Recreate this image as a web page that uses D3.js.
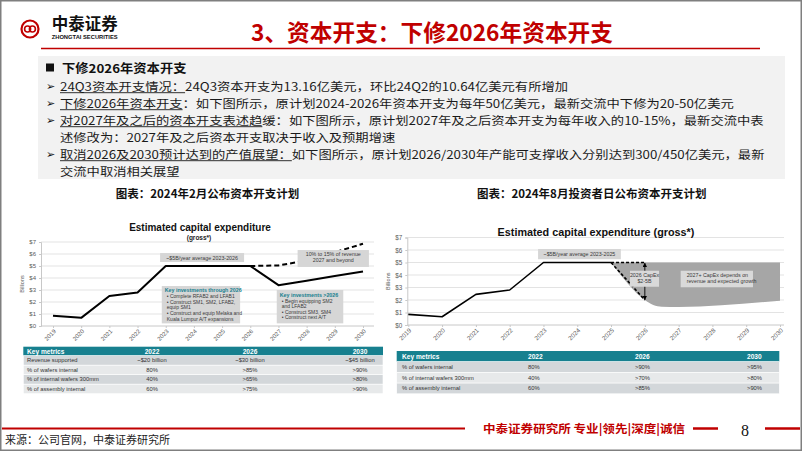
<!DOCTYPE html>
<html><head><meta charset="utf-8">
<script src="https://cdn.jsdelivr.net/npm/d3@7"></script>
<style>body{margin:0;background:#fff}svg{display:block}</style>
</head><body><svg id="s" width="802" height="451"></svg>
<script>
// ---------------- data ----------------
const years = [2019,2020,2021,2022,2023,2024,2025,2026,2027,2028,2029,2030];
const febCapex = [0.85,0.68,2.5,2.8,5.0,5.0,5.0,5.0,3.4,3.78,4.17,4.55];
const febDashYears = [2026,2027,2028,2029,2030];
const febDashCapex = [5.0,5.05,5.45,6.15,6.85];
const augYears = [2019,2020,2021,2022,2023,2024,2025];
const augCapex = [0.85,0.66,2.45,2.8,5.0,5.0,5.0];
const augDropYears = [2025,2026];
const augDropCapex = [5.0,2.0];
const augFlatCapex = [5.0,5.0];
const bandYears = [2025,2026,2026.25,2026.5,2027,2030];
const bandTop = [5,5,5,5,5,5];
const bandBottom = [5,2.0,1.6,1.47,1.45,1.95];
const yTicks = [0,1,2,3,4,5,6,7];
const yTickLabels = ["$0","$1","$2","$3","$4","$5","$6","$7"];

const febHeader = ["Key metrics","2022","2026","2030"];
const febRows = [
  ["Revenue supported","~$20 billion","~$30 billion","~$45 billion"],
  ["% of wafers internal","80%",">85%",">90%"],
  ["% of internal wafers 300mm","40%",">65%",">80%"],
  ["% of assembly internal","60%",">75%",">90%"]
];
const augHeader = ["Key metrics","2022","2026","2030"];
const augRows = [
  ["% of wafers internal","80%",">90%",">95%"],
  ["% of internal wafers 300mm","40%",">70%",">80%"],
  ["% of assembly internal","60%",">85%",">90%"]
];

const pageTitle = "3、资本开支：下修2026年资本开支";
const headline = "下修2026年资本开支";
// u = number of leading characters that are underlined
const bodyLines = [
  {arrow:true, u:11, t:"24Q3资本开支情况：24Q3资本开支为13.16亿美元，环比24Q2的10.64亿美元有所增加"},
  {arrow:true, u:11, t:"下修2026年资本开支：如下图所示，原计划2024-2026年资本开支为每年50亿美元，最新交流中下修为20-50亿美元"},
  {arrow:true, u:17, t:"对2027年及之后的资本开支表述趋缓：如下图所示，原计划2027年及之后资本开支为每年收入的10-15%，最新交流中表"},
  {arrow:false, u:0, t:"述修改为：2027年及之后资本开支取决于收入及预期增速"},
  {arrow:true, u:21, t:"取消2026及2030预计达到的产值展望：如下图所示，原计划2026/2030年产能可支撑收入分别达到300/450亿美元，最新"},
  {arrow:false, u:0, t:"交流中取消相关展望"}
];
const chartTitleL = "图表：2024年2月公布资本开支计划";
const chartTitleR = "图表：2024年8月投资者日公布资本开支计划";

// ---------------- drawing ----------------
const CJK = "'Noto Sans CJK SC', 'Noto Sans', sans-serif";
const EN = "'Liberation Sans', Arial, sans-serif";
const RED = "#c00000";
const TEAL = "#17808f";
const svg = d3.select("#s");
svg.append("rect").attr("width",802).attr("height",451).attr("fill","#fff");

const defs = svg.append("defs");
defs.append("marker").attr("id","ah").attr("viewBox","0 0 10 10").attr("refX",9).attr("refY",5)
  .attr("markerWidth",5).attr("markerHeight",5).attr("orient","auto-start-reverse")
  .append("path").attr("d","M0,0L10,5L0,10z").attr("fill","#000");

// header logo
svg.append("circle").attr("cx",30).attr("cy",29).attr("r",8.5).attr("fill","none").attr("stroke",RED).attr("stroke-width",2.2);
svg.append("circle").attr("cx",27.6).attr("cy",29).attr("r",3).attr("fill","none").attr("stroke",RED).attr("stroke-width",1.6);
svg.append("circle").attr("cx",32.4).attr("cy",29).attr("r",3).attr("fill","none").attr("stroke",RED).attr("stroke-width",1.6);
svg.append("text").attr("x",51.7).attr("y",30).attr("font-family",CJK).attr("font-weight",700).attr("font-size",16.5)
  .attr("textLength",66).attr("lengthAdjust","spacingAndGlyphs").attr("fill","#111").text("中泰证券");
svg.append("text").attr("x",51.7).attr("y",39).attr("font-family",EN).attr("font-weight",700).attr("font-size",4.6)
  .attr("textLength",66).attr("lengthAdjust","spacingAndGlyphs").attr("fill","#111").text("ZHONGTAI SECURITIES");

svg.append("text").attr("x",432).attr("y",41).attr("text-anchor","middle").attr("font-family",CJK).attr("font-weight",700)
  .attr("font-size",23).attr("fill",RED).attr("textLength",362).attr("lengthAdjust","spacingAndGlyphs").text(pageTitle);
svg.append("line").attr("x1",41).attr("x2",760).attr("y1",48.5).attr("y2",48.5).attr("stroke",RED).attr("stroke-width",1.5);

// body text box
const FS = 11.6, TARGET = 13.3;
svg.append("rect").attr("x",38).attr("y",56).attr("width",747).attr("height",123).attr("fill","#f2f2f2");
svg.append("rect").attr("x",46).attr("y",63.5).attr("width",8).attr("height",8).attr("fill","#111");
const hl = svg.append("text").attr("x",62).attr("y",72.5).attr("font-family",CJK).attr("font-weight",700).attr("font-size",12)
  .attr("fill","#111").text(headline);
hl.attr("textLength", hl.node().getComputedTextLength()*TARGET/12).attr("lengthAdjust","spacingAndGlyphs");
bodyLines.forEach((ln,i)=>{
  const yb = 90.5 + i*17;
  if(ln.arrow) svg.append("text").attr("x",46).attr("y",yb-0.5).attr("font-family","'DejaVu Sans'").attr("font-size",11).attr("fill","#111").text("➢");
  const t = svg.append("text").attr("x",60).attr("y",yb).attr("font-family",CJK).attr("font-size",FS).attr("fill","#1a1a1a").text(ln.t);
  const nat = t.node().getComputedTextLength();
  const ratio = TARGET/FS;
  const sub = ln.u>0 ? t.node().getSubStringLength(0, ln.u) : 0;
  t.attr("textLength", nat*ratio).attr("lengthAdjust","spacingAndGlyphs");
  if(ln.u>0){
    svg.append("line").attr("x1",60).attr("x2",60+sub*ratio).attr("y1",yb+2.2).attr("y2",yb+2.2).attr("stroke","#1a1a1a").attr("stroke-width",0.9);
  }
});

// chart titles
svg.append("text").attr("x",207.5).attr("y",198).attr("text-anchor","middle").attr("font-family",CJK).attr("font-weight",700)
  .attr("font-size",11.5).attr("fill","#111").text(chartTitleL);
svg.append("text").attr("x",591.7).attr("y",198).attr("text-anchor","middle").attr("font-family",CJK).attr("font-weight",700)
  .attr("font-size",11.5).attr("fill","#111").text(chartTitleR);

function axes(x, y, axisX, gridRight, fs){
  svg.append("g").selectAll("line").data(yTicks.slice(1)).join("line")
    .attr("x1",axisX).attr("x2",gridRight).attr("y1",d=>y(d)).attr("y2",d=>y(d))
    .attr("stroke","#e3e3e3").attr("stroke-width",1);
  const gy = svg.append("g").attr("transform",`translate(${axisX},0)`)
    .call(d3.axisLeft(y).tickValues(yTicks).tickFormat((d,i)=>yTickLabels[i]).tickSize(2).tickPadding(3));
  gy.select(".domain").attr("stroke","#c8c8c8");
  gy.selectAll(".tick line").attr("stroke","#c8c8c8");
  gy.selectAll("text").attr("font-size",fs).attr("fill","#595959").attr("font-family",EN);
  const gx = svg.append("g").attr("transform",`translate(0,${y(0)})`)
    .call(d3.axisBottom(x).tickValues(years).tickFormat(d3.format("d")).tickSize(2));
  gx.select(".domain").attr("stroke","#c8c8c8").attr("d",`M${axisX},0H${gridRight}`);
  gx.selectAll(".tick line").attr("stroke","#c8c8c8");
  gx.selectAll("text").attr("font-size",fs).attr("fill","#595959").attr("font-family",EN)
    .attr("x",-2).attr("y",4).attr("dy","0.35em").attr("text-anchor","end").attr("transform","rotate(-45)");
}
function box(x, y, x0, x1, v0, v1, fill){
  return svg.append("rect").attr("x",x(x0)).attr("y",y(v0)).attr("width",x(x1)-x(x0)).attr("height",y(v1)-y(v0)).attr("fill",fill||"#d6d6d6");
}
function boxText(xpos, ypos, lines, fs, anchor, color, bold){
  lines.forEach((l,i)=>svg.append("text").attr("font-family",EN).attr("font-size",fs).attr("fill",color||"#3a3a3a")
    .attr("text-anchor",anchor||"middle").attr("font-weight",bold?700:400)
    .attr("x",xpos).attr("y",ypos+i*fs*1.12).text(l));
}

// ---------- LEFT CHART ----------
const xL = d3.scaleLinear().domain([2019,2030]).range([53,363]);
const yL = d3.scaleLinear().domain([0,7]).range([326,242]);
axes(xL, yL, 41, 374, 6);
svg.append("text").attr("transform",`translate(24,${yL(3.5)}) rotate(-90)`).attr("text-anchor","middle")
  .attr("font-family",EN).attr("font-size",5.5).attr("fill","#595959").text("Billions");
svg.append("text").attr("x",200).attr("y",231).attr("text-anchor","middle").attr("font-family",EN).attr("font-weight",700)
  .attr("font-size",10).attr("fill","#111").text("Estimated capital expenditure");
svg.append("text").attr("x",199).attr("y",239.5).attr("text-anchor","middle").attr("font-family",EN).attr("font-weight",700)
  .attr("font-size",6.5).attr("fill","#222").text("(gross*)");
const lineL = d3.line().x(d=>xL(d[0])).y(d=>yL(d[1]));
svg.append("path").datum(febDashYears.map((d,i)=>[d,febDashCapex[i]])).attr("d",lineL)
  .attr("fill","none").attr("stroke","#000").attr("stroke-width",2).attr("stroke-dasharray","5,3");
svg.append("path").datum(years.map((d,i)=>[d,febCapex[i]])).attr("d",lineL)
  .attr("fill","none").attr("stroke","#000").attr("stroke-width",2).attr("stroke-linejoin","round");
box(xL,yL,2022.8,2025.78,6.08,5.33);
boxText((xL(2022.8)+xL(2025.78))/2, yL(5.53), ["~$5B/year average 2023-2026"], 5.3);
box(xL,yL,2027.68,2030.21,6.33,4.92);
boxText((xL(2027.68)+xL(2030.21))/2, yL(5.8), ["10% to 15% of revenue","2027 and beyond"], 5.3);
box(xL,yL,2022.86,2025.64,3.33,0.22);
boxText(xL(2022.86)+3, yL(3.33)+6, ["Key investments through 2026"], 5.3, "start", TEAL, true);
boxText(xL(2022.86)+5, yL(3.33)+12.2, ["•  Complete RFAB2 and LFAB1","•  Construct SM1, SM2, LFAB2,","    equip SM1","•  Construct and equip Melaka and","    Kuala Lumpur A/T expansions"], 5, "start");
box(xL,yL,2026.94,2029.3,3.0,0.22);
boxText(xL(2026.94)+3, yL(3.0)+6.5, ["Key investments >2026"], 5.3, "start", TEAL, true);
boxText(xL(2026.94)+5, yL(3.0)+12.5, ["•  Begin equipping SM2","    and LFAB2","•  Construct SM3, SM4","•  Construct next A/T"], 5, "start");

// ---------- RIGHT CHART ----------
const xR = d3.scaleLinear().domain([2019,2030]).range([408.3,780]);
const yR = d3.scaleLinear().domain([0,7]).range([325,237.5]);
axes(xR, yR, 407.3, 784, 6.3);
svg.append("text").attr("transform",`translate(390,${yR(3.5)}) rotate(-90)`).attr("text-anchor","middle")
  .attr("font-family",EN).attr("font-size",5.5).attr("fill","#595959").text("Billions");
svg.append("text").attr("x",596).attr("y",235.5).attr("text-anchor","middle").attr("font-family",EN).attr("font-weight",700)
  .attr("font-size",10.8).attr("fill","#111").text("Estimated capital expenditure (gross*)");
const area = d3.area().x(d=>xR(d[0])).y0(d=>yR(d[2])).y1(d=>yR(d[1])).curve(d3.curveMonotoneX);
svg.append("path").datum(bandYears.map((d,i)=>[d,bandTop[i],bandBottom[i]])).attr("d",area).attr("fill","#a6a6a6");
const lineR = d3.line().x(d=>xR(d[0])).y(d=>yR(d[1]));
svg.append("path").datum(augYears.map((d,i)=>[d,augCapex[i]])).attr("d",lineR)
  .attr("fill","none").attr("stroke","#000").attr("stroke-width",1.6).attr("stroke-linejoin","round");
svg.append("path").datum(augDropYears.map((d,i)=>[d,augDropCapex[i]])).attr("d",lineR)
  .attr("fill","none").attr("stroke","#000").attr("stroke-width",1.6).attr("stroke-dasharray","3,2");
svg.append("path").datum(augDropYears.map((d,i)=>[d,augFlatCapex[i]])).attr("d",lineR)
  .attr("fill","none").attr("stroke","#000").attr("stroke-width",1.6).attr("stroke-dasharray","3,2");
svg.append("line").attr("x1",xR(2026)).attr("x2",xR(2026)).attr("y1",yR(4.95)).attr("y2",yR(2.02))
  .attr("stroke","#000").attr("stroke-width",0.9).attr("marker-start","url(#ah)").attr("marker-end","url(#ah)");
box(xR,yR,2022.84,2025.29,6.08,5.26);
boxText((xR(2022.84)+xR(2025.29))/2, yR(5.5), ["~$5B/year average 2023-2025"], 5.3);
box(xR,yR,2025.56,2026.42,4.34,3.06,"#d9d9d9");
boxText(xR(2025.99), yR(3.83), ["2026 CapEx","$2-5B"], 5.3);
box(xR,yR,2027.06,2029.2,4.34,3.02,"#d9d9d9");
boxText(xR(2027.06)+6, yR(3.83), ["2027+ CapEx depends on","revenue and expected growth"], 5.3, "start");

// ---------- TABLES ----------
function table(header, rows, x0, x1, yTop, hH, rH, colX, anchor){
  svg.append("rect").attr("x",x0).attr("y",yTop).attr("width",x1-x0).attr("height",hH).attr("fill",TEAL);
  header.forEach((h,j)=>svg.append("text").attr("x",colX[j]).attr("y",yTop+hH/2).attr("dy","0.35em")
    .attr("text-anchor",j===0?"start":anchor).attr("font-family",EN).attr("font-weight",700).attr("font-size",6.6)
    .attr("fill","#fff").text(h));
  rows.forEach((r,i)=>{
    const yy = yTop+hH+i*rH;
    svg.append("rect").attr("x",x0).attr("y",yy).attr("width",x1-x0).attr("height",rH)
      .attr("fill",i%2===0?"#d3d7da":"#e7e9ea").attr("stroke","#fff").attr("stroke-width",0.6);
    r.forEach((c,j)=>svg.append("text").attr("x",colX[j]).attr("y",yy+rH/2).attr("dy","0.35em")
      .attr("text-anchor",j===0?"start":anchor).attr("font-family",EN).attr("font-size",5.8)
      .attr("fill","#333").text(c));
  });
}
table(febHeader, febRows, 23.3, 383, 346.7, 9, 9.5, [27,152,250,360], "middle");
table(augHeader, augRows, 396.7, 779.3, 351, 10.7, 10.7, [402,528,635,747], "start");

// ---------- FOOTER ----------
svg.append("line").attr("x1",2).attr("x2",465).attr("y1",428.5).attr("y2",428.5).attr("stroke",RED).attr("stroke-width",2);
svg.append("text").attr("x",483).attr("y",433).attr("font-family",CJK).attr("font-weight",600).attr("font-size",11.5)
  .attr("fill",RED).attr("textLength",202).attr("lengthAdjust","spacingAndGlyphs").text("中泰证券研究所 专业|领先|深度|诚信");
svg.append("line").attr("x1",693).attr("x2",718).attr("y1",428.5).attr("y2",428.5).attr("stroke",RED).attr("stroke-width",2.5);
svg.append("line").attr("x1",765).attr("x2",800).attr("y1",428.5).attr("y2",428.5).attr("stroke",RED).attr("stroke-width",2.5);
svg.append("text").attr("x",741).attr("y",436).attr("font-family","'Liberation Serif', serif").attr("font-size",16)
  .attr("fill","#111").text("8");
svg.append("text").attr("x",5).attr("y",444).attr("font-family",CJK).attr("font-size",11).attr("fill","#222")
  .text("来源：公司官网，中泰证券研究所");

// border
svg.append("rect").attr("x",0.75).attr("y",0.75).attr("width",800.5).attr("height",449.5).attr("fill","none")
  .attr("stroke","#7f7f7f").attr("stroke-width",1.5);
</script></body></html>
